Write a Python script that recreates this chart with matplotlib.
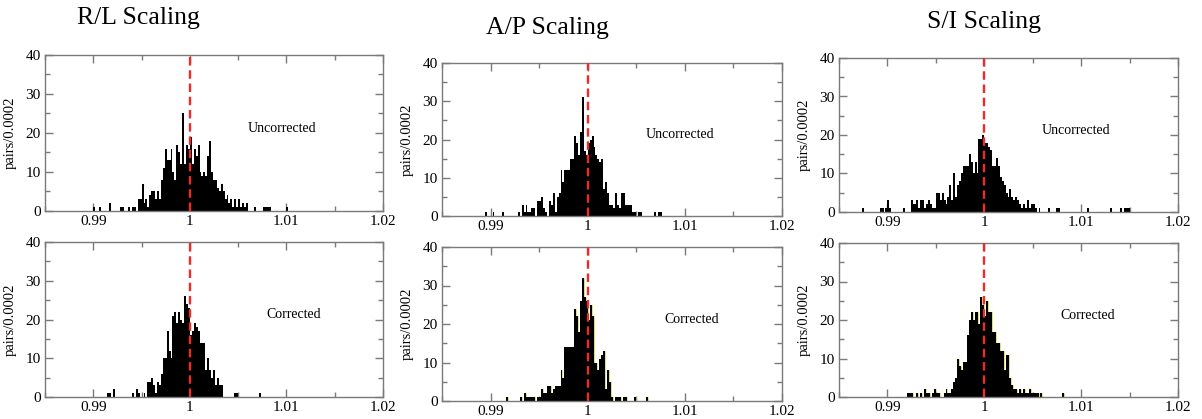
import numpy as np
import matplotlib
matplotlib.use("Agg")
import matplotlib.pyplot as plt
from matplotlib.ticker import MultipleLocator, FixedLocator, FuncFormatter

# ---------------- data (bin width 0.0002, counts start at given left edge) ----
BIN_WIDTH = 0.0002

RL_UNC_START = 0.9900
RL_UNC = [1,0,0,1,0,0,0,0,2,0, 0,0,0,0,1,1,0,0,1,0,
          1,1,0,3,3,7,2,3,1,4, 5,5,3,5,3,8,11,16,13,13,
          16,10,8,17,15,12,25,12,17,16, 19,12,16,14,17,10,9,10,9,14,
          18,10,8,8,6,5,7,5,3,4, 2,3,1,3,1,3,1,2,1,2,
          0,0,0,1,0,0,0,0,1,1, 1,1,0,0,0,0,0,0,0,0, 1]

RL_COR_START = 0.9914
RL_COR = [1,1,0,2, 0,0,0,0,0,0,0,0,0,
          1,0,2,1,0,0,1,0,
          4,4,5,3,1,4,3,6,10,10,
          17,12,10,21,22,19,22,20,19,26,
          24,23,16,17,19,18,17,14,14,14,
          7,10,7,5,7,3,5,3,3,
          0,0,0,0,0,0, 1,1, 0,0,0,0,0,0,0,0,0,0,0, 1]

AP_UNC_START = 0.9894
AP_UNC = [1,0,0,0,1,0,0,0,0,1,
          0,0,0,0,0,0,0,1,0,3,
          1,3,1,1,2,2,0,4,4,5,
          2,1,0,4,3,6,1,5,6,12,
          9,12,12,12,15,15,21,19,16,22,
          31,17,16,19,20,21,18,16,15,14,
          15,7,9,6,3,3,2,6,3,2,
          6,6,3,3,3,3,1,1,0,1,
          1,0,0,0,0,0,0,1,0,1, 1]

AP_COR_START = 0.9916
AP_COR = [1, 0,0,0,0,0,0,
          1,0,2,1,1,1,1,1,0,1,
          1,3,2,2,4,4,2,3,4,4,
          4,8,6,14,14,14,14,14,24,22,
          18,26,32,27,26,21,25,22,10,10,
          8,11,12,13,3,8,5,1,0,1,
          1,1,0,1,1,0,0,0,0,1,
          0,0,0,0,0,1]

SI_UNC_START = 0.9874
SI_UNC = [1, 0,0,0,0,0,0,0,0, 1,1,0,1,3,1, 0,0,0,0,0,0, 1, 0,0,0,
          3,2,2,3,1,3,3,1,2,3,2,1,1,
          5,5,3,5,3,2,4,7,3,10,
          4,7,8,10,12,12,12,15,13,10,
          13,10,19,19,20,18,18,17,16,12,
          12,14,12,9,8,7,5,4,6,4,
          3,4,3,2,1,2,1,3,1,2,
          2,1,0,1,0,0,0,0,1,0,0,0,1,1,
          0,0,0,0,0,0,0,0,0,0,0,0,0,0, 1,
          0,0,0,0,0,0,0,0,0,0,0, 1, 0,0,0,0, 1,0,1,1,1]

SI_COR_START = 0.9920
SI_COR = [1,1,1,0,0,1,0,1,0,2,
          1,1,0,1,2,1,1,0,0,1,
          2,1,1,2,4,5,10,8,7,9,
          9,16,20,22,20,22,22,19,26,24,
          21,25,22,22,17,17,14,14,12,12,
          7,11,11,5,3,2,2,1,2,1,
          2,1,1,2,1,1,1,1,0,1,
          0,0,0,0,0,0,0,0,0,0, 1]

PANELS = [
    ("R/L", RL_UNC_START, RL_UNC, "Uncorrected", False),
    ("R/L", RL_COR_START, RL_COR, "Corrected", False),
    ("A/P", AP_UNC_START, AP_UNC, "Uncorrected", False),
    ("A/P", AP_COR_START, AP_COR, "Corrected", True),
    ("S/I", SI_UNC_START, SI_UNC, "Uncorrected", False),
    ("S/I", SI_COR_START, SI_COR, "Corrected", True),
]
TITLES = ["R/L Scaling", "A/P Scaling", "S/I Scaling"]
XTICKS = [0.99, 1.0, 1.01, 1.02]
XTICK_LABELS = ["0.99", "1", "1.01", "1.02"]
YLABEL = "pairs/0.0002"

# ---------------- layout (pixel boxes: left, top, right, bottom) -------------
W, H = 1202, 419
BOXES = [(45, 55, 383, 211), (45, 242, 383, 397),
         (442, 63, 782, 216), (442, 247, 782, 401),
         (839, 58, 1178, 212), (839, 243, 1178, 397)]
TITLE_POS = [(138, 18), (547, 28), (984, 22)]

SERIF = ["Liberation Serif", "DejaVu Serif"]
plt.rcParams["font.family"] = SERIF

fig = plt.figure(figsize=(W / 100, H / 100), dpi=100)
GREY = "#7a7a7a"

for (lbl, start, counts, note, yellow), (l, t, r, b) in zip(PANELS, BOXES):
    ax = fig.add_axes([l / W, 1 - b / H, (r - l) / W, (b - t) / H])
    counts = np.asarray(counts, dtype=float)
    edges = start + BIN_WIDTH * np.arange(len(counts) + 1)
    if yellow:
        ax.stairs(counts, edges, color="#caca00", lw=0.4, zorder=1.9)
    ax.stairs(counts, edges, fill=True, color="black", lw=0, zorder=2)
    ax.axvline(1.0, color="#ee2a2a", lw=1.7, ls=(0, (3.6, 2.0)), zorder=3)
    ax.set_xlim(0.985, 1.02)
    ax.set_ylim(0, 40)
    ax.xaxis.set_major_locator(FixedLocator(XTICKS))
    ax.xaxis.set_major_formatter(FuncFormatter(
        lambda v, p: XTICK_LABELS[int(round((v - 0.99) / 0.01))]))
    ax.xaxis.set_minor_locator(FixedLocator([0.985, 0.995, 1.005, 1.015]))
    ax.yaxis.set_major_locator(MultipleLocator(10))
    ax.yaxis.set_minor_locator(MultipleLocator(5))
    ax.tick_params(which="both", direction="in", top=True, right=True,
                   color=GREY, width=1.0, labelsize=11, pad=3)
    ax.tick_params(which="major", length=6)
    ax.tick_params(which="minor", length=3.5)
    for sp in ax.spines.values():
        sp.set_color(GREY)
        sp.set_linewidth(1.0)
    ax.set_ylabel(YLABEL, fontsize=10.5)
    ax.yaxis.set_label_coords(-28 / (r - l), 0.5)
    xt = 1.0095 if note == "Uncorrected" else 1.0107
    ax.text(xt, 21.2, note, ha="center", va="center", fontsize=10)

for txt, (x, y) in zip(TITLES, TITLE_POS):
    fig.text(x / W, 1 - y / H, txt, ha="center", va="center", fontsize=18.5)

fig.savefig("out.png", dpi=100)
